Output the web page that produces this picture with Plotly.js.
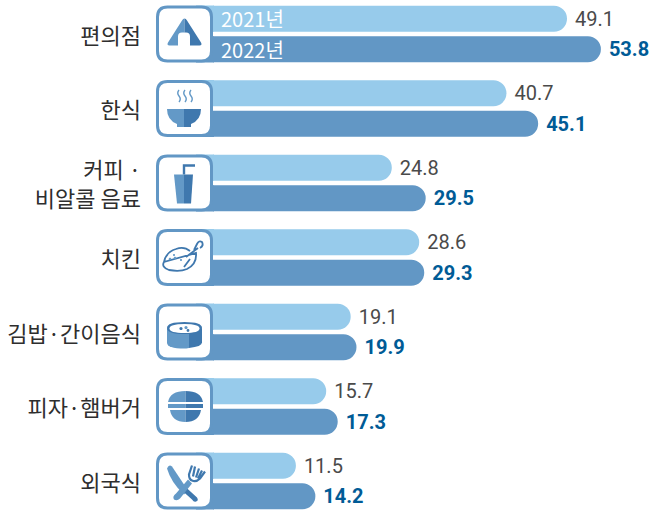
<!DOCTYPE html>
<html><head><meta charset="utf-8">
<script src="https://cdn.plot.ly/plotly-3.0.1.min.js"></script>
<style>html,body{margin:0;padding:0;background:#fff}</style></head>
<body><div id="chart" style="width:653px;height:511px"></div>
<script>
const categories = ['편의점','한식','커피 ·<br>비알콜 음료','치킨','김밥·간이음식','피자·햄버거','외국식'];
const values2021 = [49.1,40.7,24.8,28.6,19.1,15.7,11.5];
const values2022 = [53.8,45.1,29.5,29.3,19.9,17.3,14.2];
const seriesNames = ['2021년','2022년'];

const LIGHT='#6399c7', DARK='#3f78ae', WHITE='#ffffff';
const BAR21='#97cbeb', BAR22='#6297c5';
const circle=(cx,cy,r)=>{const k=r*0.55;return `M${cx-r} ${cy} C${cx-r} ${cy-k} ${cx-k} ${cy-r} ${cx} ${cy-r} C${cx+k} ${cy-r} ${cx+r} ${cy-k} ${cx+r} ${cy} C${cx+r} ${cy+k} ${cx+k} ${cy+r} ${cx} ${cy+r} C${cx-k} ${cy+r} ${cx-r} ${cy+k} ${cx-r} ${cy}Z`;};
// each icon: list of [path, fill, strokeColor, strokeWidth], in a 57x57 box, y down
const icons = [
 [['M28.5 13 Q27 13 26 15 L12 37 Q10.5 40 13.5 40 L22 40 L22 31 Q22 27 26 27 L28.5 27Z',LIGHT],
  ['M28.5 13 Q30 13 31 15 L45 37 Q46.5 40 43.5 40 L34 40 L34 31 Q34 27 30 27 L28.5 27Z',DARK]],
 [['M23 10 Q20.5 13 23 16 Q25.5 19 23 22 M29 10 Q26.5 13 29 16 Q31.5 19 29 22 M35 10 Q32.5 13 35 16 Q37.5 19 35 22',null,LIGHT,1.4],
  ['M11 29 L28 29 L28 47 L21 47 L21 44 Q11 40 11 29Z',LIGHT],
  ['M28 29 L45 29 Q45 40 35 44 L35 47 L28 47Z',DARK]],
 [['M18 20 L28 20 L28 49 L21 49Z',LIGHT],['M28 20 L37 20 L35 49 L28 49Z',DARK],
  ['M28 20 L28 11 L39 11',null,DARK,2.4]],
 [['M8 33 Q10 23 20 20 Q28 17 34 22 M30 28 L42 19 M44 19 Q48 17 46 13 Q43 11 41 15 L38 21 M34 30 L28 38 M40 24 Q41 35 31 40 Q24 43 13 41 Q5 38 8 33Z',null,DARK,1.8],
  [circle(14,30,1.3),LIGHT],[circle(19,29,1.3),LIGHT],[circle(18,26,1),LIGHT],[circle(25,31,1),LIGHT]],
 [['M11 25 L33 25 L33 44.5 Q30 45 28.5 45 Q11 45 11 39Z',LIGHT],['M33 25 L46 25 L46 39 Q46 43 33 44.5Z',DARK],
  ['M11 24.5 Q11 18.5 28.5 18.5 Q46 18.5 46 24.5 Q46 30.5 28.5 30.5 Q11 30.5 11 24.5Z',DARK],
  ['M13.5 25 Q13.5 20.5 28.5 20.5 Q43.5 20.5 43.5 25 Q43.5 29.5 28.5 29.5 Q13.5 29.5 13.5 25Z',WHITE],
  [circle(25,25,1.6),DARK],[circle(30,24,1.6),LIGHT],[circle(32,27,1.4),DARK]],
 [['M12 24 Q14 13 29.5 13 L29.5 24Z M12 26 L29.5 26 L29.5 30 L12 30Z M14 32 L29.5 32 L29.5 44 Q16 44 14 32Z',LIGHT],
  ['M29.5 13 Q45 13 47 24 L29.5 24Z M29.5 26 L47 26 L47 30 L29.5 30Z M29.5 32 L45 32 Q43 44 29.5 44Z',DARK]],
 [['M11 16 Q13 11 16 14 L32 38 L28 42 Q15 30 11 16Z',LIGHT],
  ['M29 34 L41 45 Q43 48 40 49 Q38 50 36 47 L26 38Z',DARK],
  ['M32 27 L20 41 Q16 44 18 47 Q21 49 24 46 L36 31Z',LIGHT],
  ['M36 13 L33 22 Q33 27 36 28 Q40 30 44 26 L49 19 M39 14 L37 24 M43 16 L40 25 M46 18 L42 26',null,DARK,2.2]]
];
const CARD='M11.5 1.5 L45.5 1.5 Q55.5 1.5 55.5 11.5 L55.5 45.5 Q55.5 55.5 45.5 55.5 L11.5 55.5 Q1.5 55.5 1.5 45.5 L1.5 11.5 Q1.5 1.5 11.5 1.5Z';
const FILL_TOP='M40 0 L58 0 L58 26 L40 26Z', FILL_BOTTOM='M40 31 L58 31 L58 57 L40 57Z';

const fontLatin = 'Roboto,"Liberation Sans",sans-serif';
const fontKo = '"Noto Sans CJK KR","Noto Sans",sans-serif';
const axisStart = 213, pxPerUnit = 7.21, rowPitch = 74.5, firstRow = 34, cardLeft = 156;

// box coordinates (y down, origin at card corner) -> pixels around the anchor (y up)
function toAnchor(path){
  return path.replace(/(-?[\d.]+) (-?[\d.]+)/g,(m,x,y)=>`${(+x).toFixed(2)} ${(28.5-y).toFixed(2)}`);
}
const anchorX = (cardLeft-axisStart)/(653-axisStart);
function shape(i,p,fill,stroke,w){
  return {type:'path',layer:'above',xref:'paper',yref:'y',xsizemode:'pixel',ysizemode:'pixel',
    xanchor:anchorX,yanchor:categories[i],path:toAnchor(p),
    fillcolor:fill||'rgba(0,0,0,0)',line:{color:stroke||'rgba(0,0,0,0)',width:w||0}};
}
const shapes=[];
icons.forEach((parts,i)=>{
  shapes.push(shape(i,FILL_TOP,BAR21));
  shapes.push(shape(i,FILL_BOTTOM,BAR22));
  shapes.push(shape(i,CARD,'#ffffff','#6297c5',3));
  parts.forEach(q=>shapes.push(shape(i,q[0],q[1],q[2],q[3])));
});

const base = {type:'bar',orientation:'h',y:categories,textposition:'outside',cliponaxis:false,
  texttemplate:'\u00A0%{x:.1f}',hoverinfo:'skip'};
const traces = [
 Object.assign({},base,{name:seriesNames[0],x:values2021,marker:{color:BAR21,line:{width:0}},
   textfont:{family:fontLatin,size:20,color:'#4a4a4a'}}),
 Object.assign({},base,{name:seriesNames[1],x:values2022,marker:{color:BAR22,line:{width:0}},
   textfont:{family:fontLatin,size:20,color:'#005b96',weight:700}})
];
const layout = {
  width:653,height:511,autosize:false,showlegend:false,
  paper_bgcolor:'#fff',plot_bgcolor:'#fff',
  margin:{l:axisStart,r:0,t:0,b:0,pad:0},
  barmode:'group',bargap:0.177,bargroupgap:0.15,barcornerradius:13,
  xaxis:{range:[0,(653-axisStart)/pxPerUnit],visible:false,fixedrange:true},
  yaxis:{type:'category',categoryorder:'array',categoryarray:categories,
    range:[(511-firstRow)/rowPitch,-firstRow/rowPitch],
    showgrid:false,zeroline:false,showline:false,automargin:false,
    ticks:'',ticklabelstandoff:71,ticklabelshift:-2,
    tickfont:{family:fontKo,size:22,color:'#2e2e2e'}},
  annotations:seriesNames.map((s,i)=>({text:s,xref:'x',yref:'y',x:0.8,y:categories[0],
    xanchor:'left',yanchor:'middle',yshift:i?-15.5:15.5,showarrow:false,
    font:{family:fontKo,size:20,color:'#fff'}})),
  shapes:shapes
};
Plotly.newPlot('chart',traces,layout,{displayModeBar:false,staticPlot:true});
</script></body></html>
